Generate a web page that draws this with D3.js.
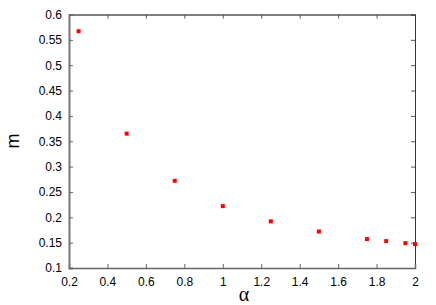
<!DOCTYPE html>
<html><head><meta charset="utf-8">
<script src="https://cdn.jsdelivr.net/npm/d3@7"></script>
<style>body{margin:0;background:#fff}svg{display:block}</style>
</head><body>
<script>
const alphaVals = [0.25, 0.5, 0.75, 1.0, 1.25, 1.5, 1.75, 1.85, 1.95, 2.0];
const mVals = [0.567, 0.365, 0.272, 0.222, 0.192, 0.172, 0.157, 0.153, 0.149, 0.147];
const xTicks = [0.2, 0.4, 0.6, 0.8, 1, 1.2, 1.4, 1.6, 1.8, 2];
const yTicks = [0.1, 0.15, 0.2, 0.25, 0.3, 0.35, 0.4, 0.45, 0.5, 0.55, 0.6];
const xLabel = "α", yLabel = "m";

const W = 436, H = 305;
const mL = 69, mR = 415, mT = 14.5, mB = 268;
const svg = d3.select("body").append("svg").attr("width", W).attr("height", H);
const x = d3.scaleLinear().domain([0.2, 2]).range([mL, mR]);
const y = d3.scaleLinear().domain([0.1, 0.6]).range([mB, mT]);
const font = "Liberation Sans, Arial, sans-serif";

// mirrored ticks on top and right
const gTop = svg.append("g").attr("transform", `translate(0,${mT})`)
  .call(d3.axisTop(x).tickValues(xTicks).tickSize(-4).tickFormat(""));
gTop.select(".domain").attr("stroke", "#000").attr("stroke-width", 1);
gTop.selectAll(".tick line").attr("stroke", "#555");
const gRight = svg.append("g").attr("transform", `translate(${mR},0)`)
  .call(d3.axisRight(y).tickValues(yTicks).tickSize(-4).tickFormat(""));
gRight.select(".domain").attr("stroke", "#333").attr("stroke-width", 1);
gRight.selectAll(".tick line").attr("stroke", "#555");

const gBottom = svg.append("g").attr("transform", `translate(0,${mB})`)
  .call(d3.axisBottom(x).tickValues(xTicks).tickSize(-4).tickPadding(9).tickFormat(d3.format("")));
gBottom.select(".domain").attr("stroke", "#666").attr("stroke-width", 1.5);
gBottom.selectAll(".tick line").attr("stroke", "#666");
gBottom.selectAll("text").attr("font-family", font).attr("font-size", 12).attr("fill", "#000");

const gLeft = svg.append("g").attr("transform", `translate(${mL},0)`)
  .call(d3.axisLeft(y).tickValues(yTicks).tickSize(-4).tickPadding(7).tickFormat(d3.format("")));
gLeft.select(".domain").attr("stroke", "#777").attr("stroke-width", 2);
gLeft.selectAll(".tick line").attr("stroke", "#666");
gLeft.selectAll("text").attr("font-family", font).attr("font-size", 12).attr("fill", "#000");

svg.append("g").selectAll("rect").data(alphaVals).join("rect")
  .attr("x", (d) => x(d) - 2).attr("y", (d, i) => y(mVals[i]) - 2)
  .attr("width", 4).attr("height", 4).attr("fill", "#ff0000");

svg.append("text").attr("x", 244).attr("y", 301).attr("text-anchor", "middle")
  .attr("font-family", "Liberation Serif, Times New Roman, serif").attr("font-size", 20).text(xLabel);
svg.append("text").attr("transform", "translate(19,141) rotate(-90)").attr("text-anchor", "middle")
  .attr("font-family", font).attr("font-size", 18).text(yLabel);
</script>
</body></html>
